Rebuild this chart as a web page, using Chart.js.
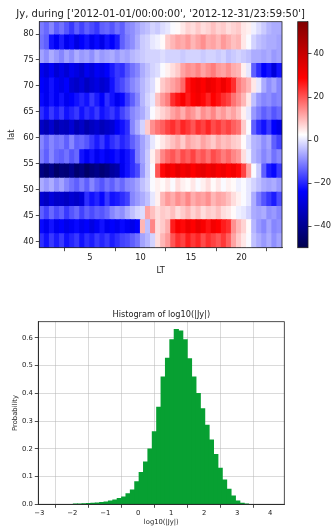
<!DOCTYPE html>
<html>
<head>
<meta charset="utf-8">
<script src="https://cdn.jsdelivr.net/npm/chart.js@4.4.1/dist/chart.umd.min.js"></script>
<style>
  body { margin: 0; background: #fff; width: 333px; height: 528px; position: relative; overflow: hidden; }
  canvas { position: absolute; }
</style>
</head>
<body>
<canvas id="map" width="333" height="280" style="left:0;top:0"></canvas>
<canvas id="cbar" width="43" height="280" style="left:290px;top:0"></canvas>
<canvas id="hist" width="333" height="238" style="left:0;top:290px"></canvas>
<script>
// LT bin centres (hours) and latitude row edges (deg)
const ltMid = [0.25, 0.75, 1.25, 1.75, 2.25, 2.75, 3.25, 3.75, 4.25, 4.75, 5.25, 5.75,
  6.25, 6.75, 7.25, 7.75, 8.25, 8.75, 9.25, 9.75, 10.25, 10.75, 11.25, 11.75,
  12.25, 12.75, 13.25, 13.75, 14.25, 14.75, 15.25, 15.75, 16.25, 16.75, 17.25, 17.75,
  18.25, 18.75, 19.25, 19.75, 20.25, 20.75, 21.25, 21.75, 22.25, 22.75, 23.25, 23.75];
const latEdges = [38.8, 41.45, 44.15, 46.75, 49.5, 52.2, 54.95, 57.7, 60.45, 63.35,
  65.9, 68.6, 71.5, 74.3, 76.9, 79.8, 82.4];

// mean Jy per (lat row, LT bin), bottom row first
const jy = [
  // 40.1
  [-19,-22,-18,-21,-18,-22,-20,-18,-22,-19,-21,-18,-20,-18,-21,-19,-17,-16,-14,-12,-7,-5,-2,6,10,13,20,24,22,26,23,25,21,24,22,20,23,19,12,8,5,2,-4,-6,-8,-6,-9,-7],
  // 42.8
  [-23,-26,-22,-26,-24,-27,-25,-23,-26,-24,-28,-25,-22,-26,-24,-26,-23,-25,-27,-24,10,-4,15,6,8,11,26,30,28,32,29,33,30,27,31,29,26,24,14,10,7,3,-5,-8,-10,-7,-10,-9],
  // 45.4
  [-14,-17,-13,-16,-14,-18,-15,-13,-17,-14,-16,-14,-15,-13,-10,-8,-9,-6,-4,-2,-1,12,9,6,8,7,9,6,8,10,7,9,6,8,7,9,6,5,3,1,0,-2,-6,-7,-6,-9,-8,-10],
  // 48.1
  [-30,-33,-29,-32,-31,-33,-30,-32,-29,-19,-22,-20,-23,-18,-22,-21,-19,-17,-10,-8,-6,-4,0,4,10,13,11,14,12,15,11,13,12,14,10,12,11,9,6,4,2,0,-6,-11,-15,-18,-21,-16],
  // 50.8
  [-6,-8,-6,-9,-7,-10,-12,-14,-11,-14,-10,-13,-15,-12,-14,-11,-13,-10,-9,-7,-4,-2,2,4,3,5,2,6,4,3,5,2,4,6,3,5,2,4,3,1,2,0,-2,-4,-6,-7,-6,-8],
  // 53.6
  [-42,-45,-41,-46,-43,-44,-40,-45,-42,-46,-43,-41,-44,-42,-38,-36,-26,-22,-19,-16,-8,-3,2,20,28,32,30,34,31,33,29,32,34,31,33,30,32,29,31,28,22,12,2,-3,-14,-21,-23,-18],
  // 56.4
  [-11,-14,-10,-13,-14,-12,-15,-13,-22,-25,-22,-26,-23,-26,-24,-22,-25,-22,-19,-11,-7,-3,4,9,15,18,20,17,21,19,22,18,20,17,21,19,16,18,15,13,6,1,-5,-7,-10,-8,-12,-10],
  // 59.1
  [-10,-13,-10,-12,-11,-14,-10,-14,-13,-15,-18,-21,-18,-22,-19,-17,-20,-18,-14,-11,-7,-4,0,3,5,7,9,11,8,12,10,9,12,10,8,11,9,10,8,7,3,-1,-5,-6,-9,-7,-14,-17],
  // 61.9
  [-32,-35,-31,-36,-33,-34,-30,-35,-32,-36,-33,-31,-34,-32,-30,-25,-22,-19,-10,-6,-2,8,14,17,19,22,24,21,25,23,20,24,22,25,21,23,20,22,19,17,8,2,-14,-19,-22,-18,-24,-27],
  // 64.6
  [-19,-22,-18,-21,-18,-22,-20,-18,-22,-19,-21,-18,-22,-20,-18,-21,-17,-14,-10,-8,-6,-3,2,5,7,9,12,14,11,15,13,10,14,12,15,11,13,10,12,9,4,0,-8,-11,-14,-12,-15,-13],
  // 67.3
  [-23,-26,-22,-25,-22,-26,-24,-22,-20,-22,-18,-21,-24,-19,-22,-26,-23,-18,-14,-10,-5,-2,0,9,13,16,24,27,30,26,29,31,28,25,29,27,24,22,17,14,10,5,-4,-8,-10,-9,-11,-10],
  // 70.0
  [-24,-26,-22,-25,-27,-24,-30,-32,-29,-33,-30,-28,-31,-29,-22,-18,-16,-13,-10,-8,-5,-3,-1,3,8,10,12,14,18,27,30,32,29,33,31,28,32,28,24,16,13,10,5,0,-6,-9,-7,-10],
  // 72.9
  [-26,-29,-25,-30,-27,-30,-26,-28,-31,-26,-29,-25,-27,-24,-21,-18,-19,-15,-12,-10,-6,-4,-2,-1,2,4,6,8,12,14,13,15,12,14,16,13,12,14,11,10,4,0,-14,-19,-24,-22,-29,-22],
  // 75.6
  [-7,-9,-6,-8,-10,-7,-9,-6,-8,-7,-9,-6,-8,-7,-6,-8,-6,-7,-5,-4,-3,-2,-2,-2,-1,-2,-2,-2,-3,-2,-2,-2,-3,-2,-2,-3,-2,-4,-3,-2,-3,-4,-6,-6,-7,-6,-8,-7],
  // 78.4
  [-12,-14,-22,-25,-21,-26,-23,-28,-24,-22,-26,-23,-27,-22,-24,-21,-14,-11,-9,-6,-3,-2,0,1,3,8,10,12,11,13,10,12,14,11,12,10,13,11,9,10,5,2,-2,-4,-5,-6,-6,-7],
  // 81.1
  [-11,-13,-10,-14,-12,-15,-18,-14,-17,-14,-16,-18,-14,-13,-15,-12,-14,-10,-9,-7,-5,-4,-2,-3,-1,0,2,3,5,7,6,8,6,7,9,7,8,6,7,8,5,4,1,-1,-3,-5,-6,-6]
];

const ltTicks = [5, 10, 15, 20];
const latTicks = [40, 45, 50, 55, 60, 65, 70, 75, 80];
const cbarMin = -50, cbarMax = 55;
const cbarTicks = [-40, -20, 0, 20, 40];

// histogram of log10(|Jy|)
const histMid = [-1.9035, -1.7705, -1.6375, -1.5045, -1.3715, -1.2385, -1.1055, -0.9725,
  -0.8395, -0.7065, -0.5735, -0.4405, -0.3075, -0.1745, -0.0415, 0.0915, 0.2245, 0.3575,
  0.4905, 0.6235, 0.7565, 0.8895, 1.0225, 1.1555, 1.2885, 1.4215, 1.5545, 1.6875, 1.8205,
  1.9535, 2.0865, 2.2195, 2.3525, 2.4855, 2.6185, 2.7515, 2.8845, 3.0175, 3.1505, 3.2835];
const histProb = [0.001, 0.001, 0.002, 0.003, 0.004, 0.005, 0.007, 0.009, 0.012, 0.016,
  0.021, 0.027, 0.038, 0.052, 0.082, 0.115, 0.153, 0.2, 0.262, 0.35,
  0.459, 0.527, 0.593, 0.63, 0.625, 0.593, 0.525, 0.459, 0.4, 0.345,
  0.285, 0.232, 0.18, 0.13, 0.088, 0.055, 0.03, 0.012, 0.004, 0.001];
const histXTicks = [-3, -2, -1, 0, 1, 2, 3, 4];
const histYTicks = [0, 0.1, 0.2, 0.3, 0.4, 0.5, 0.6];

Chart.defaults.font.family = 'DejaVu Sans';
Chart.defaults.color = '#222';
Chart.defaults.animation = false;

// matplotlib 'seismic'
const seismicStops = [[0, [0, 0, 76]], [0.25, [0, 0, 255]], [0.5, [255, 255, 255]],
  [0.75, [255, 0, 0]], [1, [128, 0, 0]]];
function seismic(v) {
  let t = (v - cbarMin) / (cbarMax - cbarMin);
  t = Math.max(0, Math.min(1, t));
  for (let i = 1; i < seismicStops.length; i++) {
    const [t1, c1] = seismicStops[i];
    if (t <= t1) {
      const [t0, c0] = seismicStops[i - 1];
      const f = (t - t0) / (t1 - t0);
      const c = c0.map((a, k) => Math.round(a + (c1[k] - a) * f));
      return `rgb(${c[0]},${c[1]},${c[2]})`;
    }
  }
  return 'rgb(128,0,0)';
}

const frame = {
  id: 'frame',
  afterDraw(chart) {
    const a = chart.chartArea, c = chart.ctx;
    c.save();
    c.strokeStyle = '#222';
    c.lineWidth = 0.8;
    c.strokeRect(a.left, a.top, a.right - a.left, a.bottom - a.top);
    c.restore();
  }
};

const axTitle = {
  id: 'axTitle',
  afterDraw(chart, args, opts) {
    if (!opts.text) return;
    const a = chart.chartArea, c = chart.ctx;
    c.save();
    c.font = opts.size + 'px "DejaVu Sans"';
    c.fillStyle = '#222';
    c.textAlign = 'center';
    c.textBaseline = 'alphabetic';
    c.fillText(opts.text, (a.left + a.right) / 2, a.top - opts.gap);
    c.restore();
  }
};

const setTicks = list => s => { s.ticks = list.map(v => ({ value: v })); };
const minus = v => String(v).replace('-', '\u2212');
const tickGrid = { drawOnChartArea: false, tickLength: 3.5, color: '#222', lineWidth: 0.8 };

// heatmap
new Chart(document.getElementById('map'), {
  type: 'bar',
  data: {
    datasets: jy.map((row, r) => ({
      data: row.map((v, c) => ({ x: ltMid[c], y: [latEdges[r], latEdges[r + 1]] })),
      backgroundColor: row.map(v => seismic(v)),
      grouped: false,
      barPercentage: 1,
      categoryPercentage: 1,
      borderWidth: 0,
      inflateAmount: 0.5
    }))
  },
  options: {
    responsive: false,
    events: [],
    layout: { padding: { left: 0, right: 51, top: 21.7, bottom: 0 } },
    plugins: {
      legend: { display: false },
      tooltip: { enabled: false },
      axTitle: { text: "Jy, during ['2012-01-01/00:00:00', '2012-12-31/23:59:50']", size: 10, gap: 5 }
    },
    scales: {
      x: {
        type: 'linear', min: 0, max: 24, offset: false,
        afterBuildTicks: setTicks(ltTicks),
        afterFit: s => { s.height = 32.3; },
        grid: tickGrid,
        border: { color: '#222', width: 0.8 },
        ticks: { font: { size: 8.3 }, padding: 2, maxRotation: 0 },
        title: { display: true, text: 'LT', font: { size: 8.3 }, padding: { top: 0, bottom: 4 } }
      },
      y: {
        type: 'linear', min: 38.78, max: 82.38,
        afterBuildTicks: setTicks(latTicks),
        afterFit: s => { s.width = 39.3; },
        grid: tickGrid,
        border: { color: '#222', width: 0.8 },
        ticks: { font: { size: 8.3 }, padding: 2 },
        title: { display: true, text: 'lat', font: { size: 8.3 }, padding: { top: 7, bottom: 0 } }
      }
    }
  },
  plugins: [frame, axTitle]
});

// colour bar
new Chart(document.getElementById('cbar'), {
  type: 'bar',
  data: {
    labels: ['Jy'],
    datasets: [{
      data: [[cbarMin, cbarMax]],
      backgroundColor: ctx => {
        const a = ctx.chart.chartArea;
        if (!a) return '#fff';
        const g = ctx.chart.ctx.createLinearGradient(0, a.bottom, 0, a.top);
        seismicStops.forEach(([p, c]) => g.addColorStop(p, `rgb(${c[0]},${c[1]},${c[2]})`));
        return g;
      },
      barPercentage: 1,
      categoryPercentage: 1,
      borderWidth: 0
    }]
  },
  options: {
    responsive: false,
    events: [],
    layout: { padding: { left: 7.7, right: 0, top: 21.7, bottom: 32.3 } },
    plugins: { legend: { display: false }, tooltip: { enabled: false } },
    scales: {
      x: { display: false },
      y: {
        position: 'right', min: cbarMin, max: cbarMax,
        afterBuildTicks: setTicks(cbarTicks),
        afterFit: s => { s.width = 25; },
        grid: tickGrid,
        border: { color: '#222', width: 0.8 },
        ticks: { font: { size: 8.3 }, padding: 2, callback: v => minus(v) }
      }
    }
  },
  plugins: [frame]
});

// histogram
new Chart(document.getElementById('hist'), {
  type: 'bar',
  data: {
    datasets: [{
      data: histMid.map((x, i) => ({ x: x, y: histProb[i] })),
      backgroundColor: '#07a032',
      barPercentage: 1,
      categoryPercentage: 1,
      borderWidth: 0,
      inflateAmount: 0.4
    }]
  },
  options: {
    responsive: false,
    events: [],
    layout: { padding: { left: 0, right: 48.7, top: 31.7, bottom: 0 } },
    plugins: {
      legend: { display: false },
      tooltip: { enabled: false },
      axTitle: { text: 'Histogram of log10(|Jy|)', size: 8.2, gap: 4.5 }
    },
    scales: {
      x: {
        type: 'linear', min: -3.03, max: 4.43, offset: false, z: 1,
        afterBuildTicks: setTicks(histXTicks),
        afterFit: s => { s.height = 23.7; },
        grid: { color: 'rgba(176,176,176,0.6)', lineWidth: 0.8, tickLength: 3.5, tickColor: '#222' },
        border: { color: '#222', width: 0.8 },
        ticks: { font: { size: 6.8 }, padding: 1.5, maxRotation: 0, callback: v => minus(v) },
        title: { display: true, text: 'log10(|Jy|)', font: { size: 6.8 }, padding: { top: 0, bottom: 2 } }
      },
      y: {
        type: 'linear', min: 0, max: 0.658, z: 1,
        afterBuildTicks: setTicks(histYTicks),
        afterFit: s => { s.width = 38.3; },
        grid: { color: 'rgba(176,176,176,0.6)', lineWidth: 0.8, tickLength: 3.5, tickColor: '#222' },
        border: { color: '#222', width: 0.8 },
        ticks: { font: { size: 6.8 }, padding: 2, callback: v => v.toFixed(1) },
        title: { display: true, text: 'Probability', font: { size: 6.8 }, padding: { top: 11, bottom: 0 } }
      }
    }
  },
  plugins: [frame, axTitle]
});
</script>
</body>
</html>
